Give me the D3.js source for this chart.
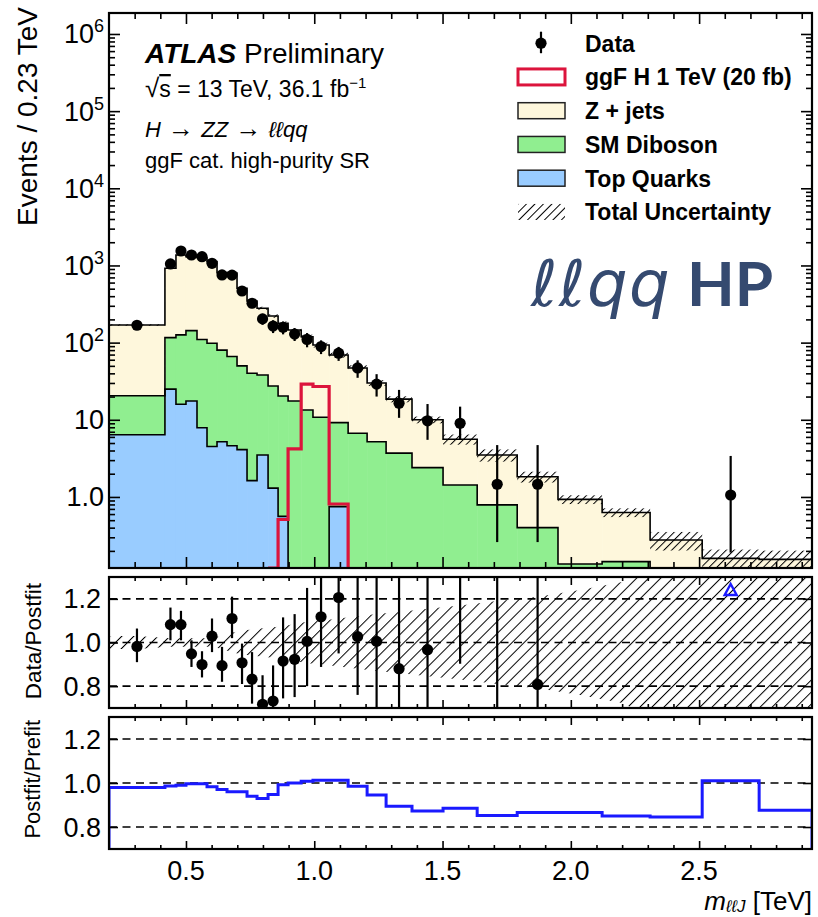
<!DOCTYPE html>
<html>
<head>
<meta charset="utf-8">
<script src="https://cdn.jsdelivr.net/npm/d3@7"></script>
<style>
  body { margin: 0; background: #fff; }
  text { font-family: "Liberation Sans", Arial, Helvetica, sans-serif; fill: #000; }
</style>
</head>
<body>
<svg id="chart" width="818" height="917"></svg>
<script>
// ---------------- data ----------------
const binEdges = [0.2, 0.418, 0.461, 0.5, 0.543, 0.582, 0.621, 0.66, 0.699, 0.738, 0.777,
  0.82, 0.859, 0.898, 0.949, 0.995, 1.058, 1.132, 1.206, 1.28, 1.381, 1.502, 1.635,
  1.791, 1.95, 2.122, 2.309, 2.512, 2.734, 2.94];

// stacked backgrounds (events / 0.23 TeV)
const topQuarks = [6.4, 25, 15.9, 17.5, 7.9, 4.5, 5.2, 4.6, 4.1, 1.63, 3.5, 1.3, 0.56,
  0, 0, 0, 0.75, 0, 0, 0, 0, 0, 0, 0, 0, 0, 0, 0, 0];
const smDiboson = [14.1, 91, 110.1, 125.5, 102.1, 93.5, 74.8, 61.4, 45.9, 38.4, 34.5, 26.1,
  19.8, 17.5, 13.4, 10.8, 8.45, 6.7, 5.2, 3.7, 2.4, 1.43, 0.79, 0.40, 0.135, 0.145, 0.05, 0.03, 0.03];
const zJets = [148.5, 804, 1241, 1157, 1160, 1022, 727, 734, 456, 307, 241, 193.6, 157.6,
  128.5, 105.6, 82.2, 59.8, 40.3, 24.8, 14.8, 7.6, 4.17, 2.71, 1.43, 0.795, 0.485, 0.227, 0.13, 0.125];
// relative total uncertainty on the stack
const totalUncRel = [0.02, 0.02, 0.02, 0.02, 0.02, 0.02, 0.02, 0.03, 0.035, 0.04, 0.045, 0.05,
  0.055, 0.06, 0.065, 0.07, 0.075, 0.08, 0.085, 0.09, 0.1, 0.15, 0.18, 0.16, 0.13, 0.13, 0.27, 0.3, 0.3];

// ggF H 1 TeV signal (null = not drawn)
const signalH1TeV = [null, null, null, null, null, null, null, null, null, null, null,
  0.05, 0.51, 4.2, 29, 27, 0.81, null, null, null, null, null, null, null, null, null, null, null, null];

// data with error-bar bounds (null = empty bin)
const dataVal = [168, 1047, 1540, 1367, 1300, 1067, 753, 750, 467, 324, 203, 164, 158, 129,
  110, 89, 73, 47, 29, 16.4, 9.7, 9.0, 1.46, 1.46, null, null, null, 1.06, null];
const dataLo = [155, 975, 1445, 1283, 1213, 988, 687, 684, 415, 280, 170, 133, 128, 105,
  87, 71, 58, 35, 20, 10.6, 5.5, 5.5, 0.26, 0.26, null, null, null, 0.19, null];
const dataHi = [181, 1120, 1635, 1452, 1387, 1146, 819, 816, 519, 368, 236, 195, 188, 153,
  133, 107, 88, 59, 39, 24.4, 16, 14.8, 4.7, 4.7, null, null, null, 3.4, null];

// Data / Postfit
const ratioVal = [0.982, 1.082, 1.082, 0.948, 0.899, 1.029, 0.894, 1.11, 0.907, 0.832, 0.717,
  0.732, 0.915, 0.923, 1.005, 1.118, 1.206, 1.027, 1.005, 0.88, 0.967, 1.6, 0.42, 0.808,
  null, null, null, 6.5, null];
const ratioLo = [0.91, 1.01, 1.01, 0.888, 0.84, 0.956, 0.82, 1.02, 0.81, 0.72, 0.64, 0.6,
  0.744, 0.75, 0.80, 0.888, 0.95, 0.76, 0.6, 0.55, 0.55, 0.903, 0.075, 0.14,
  null, null, null, 1.5, null];
const ratioHi = [1.064, 1.16, 1.145, 1.01, 0.96, 1.11, 0.98, 1.21, 0.995, 0.956, 0.85, 0.895,
  1.115, 1.13, 1.25, 1.4, 1.45, 1.5, 1.5, 1.5, 1.5, 2.6, 1.35, 2.6,
  null, null, null, 20, null];
// relative width of the ratio uncertainty band
const ratioBandRel = [0.03, 0.02, 0.02, 0.02, 0.02, 0.02, 0.03, 0.045, 0.055, 0.06, 0.065, 0.07,
  0.075, 0.085, 0.095, 0.1, 0.11, 0.12, 0.13, 0.14, 0.155, 0.17, 0.19, 0.21, 0.24, 0.28, 0.5, 0.6, 0.6];

// Postfit / Prefit
const postPre = [0.979, 0.986, 0.99, 0.997, 0.997, 0.983, 0.97, 0.96, 0.96, 0.94, 0.929, 0.948,
  0.992, 1.0, 1.008, 1.012, 1.012, 0.985, 0.945, 0.894, 0.873, 0.885, 0.852, 0.866, 0.866,
  0.85, 0.845, 1.01, 0.876];

// ticks and labels
const xMajorTicks = [0.5, 1.0, 1.5, 2.0, 2.5];
const xTickLabels = ["0.5", "1.0", "1.5", "2.0", "2.5"];
const xMinorTicks = [0.3, 0.4, 0.6, 0.7, 0.8, 0.9, 1.1, 1.2, 1.3, 1.4, 1.6, 1.7, 1.8, 1.9,
  2.1, 2.2, 2.3, 2.4, 2.6, 2.7, 2.8, 2.9];
const mainYTicks = [1, 10, 1e2, 1e3, 1e4, 1e5, 1e6];
const mainYTickBase = ["1.0", "10", "10", "10", "10", "10", "10"];
const mainYTickExp = [null, null, "2", "3", "4", "5", "6"];
const ratioTicks = [0.8, 1.0, 1.2];
const ratioTickLabels = ["0.8", "1.0", "1.2"];

const legendItems = [
  { label: "Data", kind: "data" },
  { label: "ggF H 1 TeV (20 fb)", kind: "signal" },
  { label: "Z + jets", kind: "zjets" },
  { label: "SM Diboson", kind: "diboson" },
  { label: "Top Quarks", kind: "top" },
  { label: "Total Uncertainty", kind: "unc" }
];

// ---------------- layout ----------------
const L = 109, R = 812;
const mainP = { top: 13, bottom: 568 };
const ratP = { top: 577, bottom: 708 };
const pfP = { top: 717, bottom: 849 };
const colors = { zjets: "#fef7dc", diboson: "#90ee90", top: "#99ccff", signal: "#dc143c", pf: "#1a1aff" };

const svg = d3.select("#chart");
const defs = svg.append("defs");

function hatch(id, size, width) {
  const p = defs.append("pattern").attr("id", id).attr("width", size).attr("height", size)
    .attr("patternUnits", "userSpaceOnUse").attr("patternTransform", "rotate(45)");
  p.append("line").attr("x1", 0).attr("y1", -1).attr("x2", 0).attr("y2", size + 1)
    .attr("stroke", "#000").attr("stroke-width", width);
}
hatch("hatchMain", 5.5, 2);
hatch("hatchRatio", 8.5, 2);
hatch("hatchLeg", 6, 2);

function clip(id, p) {
  defs.append("clipPath").attr("id", id).append("rect")
    .attr("x", L).attr("y", p.top).attr("width", R - L).attr("height", p.bottom - p.top);
}
clip("clipMain", mainP); clip("clipRat", ratP); clip("clipPf", pfP);

const x = d3.scaleLinear().domain([0.2, 2.94]).range([L, R]);
const yMain = d3.scaleLog().domain([0.12, 1.87e6]).range([mainP.bottom, mainP.top]).clamp(true);
const yRat = d3.scaleLinear().domain([0.7, 1.3]).range([ratP.bottom, ratP.top]);
const yPf = d3.scaleLinear().domain([0.7, 1.3]).range([pfP.bottom, pfP.top]);
const ym = v => yMain(Math.max(v, 1e-4));

const nBins = binEdges.length - 1;
const bins = d3.range(nBins).map(i => ({
  i, lo: binEdges[i], hi: binEdges[i + 1], c: (binEdges[i] + binEdges[i + 1]) / 2,
  top: topQuarks[i], diboson: smDiboson[i], zjets: zJets[i]
}));
const stacked = d3.stack().keys(["top", "diboson", "zjets"])(bins);
const total = bins.map(b => b.top + b.diboson + b.zjets);

const line = d3.line();
function stepPoints(vals, yf, base, from = 0, to = nBins) {
  const pts = [[x(binEdges[from]), base]];
  for (let i = from; i < to; i++) {
    pts.push([x(binEdges[i]), yf(vals[i])], [x(binEdges[i + 1]), yf(vals[i])]);
  }
  pts.push([x(binEdges[to]), base]);
  return pts;
}

// ---------------- main panel ----------------
const gMain = svg.append("g").attr("clip-path", "url(#clipMain)");
stacked.forEach(layer => {
  gMain.append("g").selectAll("rect").data(layer).join("rect")
    .attr("x", d => x(d.data.lo)).attr("width", d => x(d.data.hi) - x(d.data.lo) + 0.5)
    .attr("y", d => ym(d[1])).attr("height", d => Math.max(0, ym(d[0]) - ym(d[1])))
    .attr("fill", colors[layer.key]);
});
stacked.forEach(layer => {
  gMain.append("path").attr("d", line(stepPoints(layer.map(d => d[1]), ym, mainP.bottom)))
    .attr("fill", "none").attr("stroke", "#000").attr("stroke-width", 1.6);
});
// total uncertainty
gMain.append("g").selectAll("rect").data(bins).join("rect")
  .attr("x", d => x(d.lo)).attr("width", d => x(d.hi) - x(d.lo))
  .attr("y", d => ym(total[d.i] * (1 + totalUncRel[d.i])))
  .attr("height", d => ym(total[d.i] * (1 - totalUncRel[d.i])) - ym(total[d.i] * (1 + totalUncRel[d.i])))
  .attr("fill", "url(#hatchMain)");
// signal
{
  const idx = signalH1TeV.map((v, i) => v == null ? -1 : i).filter(i => i >= 0);
  const from = idx[0], to = idx[idx.length - 1] + 1;
  gMain.append("path").attr("d", line(stepPoints(signalH1TeV, ym, mainP.bottom - 1, from, to)))
    .attr("fill", "none").attr("stroke", colors.signal).attr("stroke-width", 3.2);
}
// data
const gData = svg.append("g").attr("clip-path", "url(#clipMain)");
bins.filter(b => dataVal[b.i] != null).forEach(b => {
  gData.append("line").attr("x1", x(b.c)).attr("x2", x(b.c))
    .attr("y1", ym(dataLo[b.i])).attr("y2", ym(dataHi[b.i]))
    .attr("stroke", "#000").attr("stroke-width", 2.2);
  gData.append("circle").attr("cx", x(b.c)).attr("cy", ym(dataVal[b.i])).attr("r", 5.6).attr("fill", "#000");
});

// ---------------- ratio panel ----------------
const gRat = svg.append("g").attr("clip-path", "url(#clipRat)");
{
  const up = [[x(binEdges[0]), yRat(1 + ratioBandRel[0])]];
  const dn = [[x(binEdges[0]), yRat(1 - ratioBandRel[0])]];
  bins.forEach(b => {
    up.push([x(b.c), yRat(1 + ratioBandRel[b.i])]);
    dn.push([x(b.c), yRat(1 - ratioBandRel[b.i])]);
  });
  up.push([x(binEdges[nBins]), yRat(1 + ratioBandRel[nBins - 1])]);
  dn.push([x(binEdges[nBins]), yRat(1 - ratioBandRel[nBins - 1])]);
  gRat.append("path").attr("d", line(up.concat(dn.reverse())) + "Z").attr("fill", "url(#hatchRatio)");
}
function dashed(g, ys) {
  g.selectAll(null).data(ys).join("line")
    .attr("x1", L).attr("x2", R).attr("y1", d => d).attr("y2", d => d)
    .attr("stroke", "#000").attr("stroke-width", 1.6).attr("stroke-dasharray", "8,5.5");
}
dashed(gRat, ratioTicks.map(yRat));
bins.filter(b => ratioVal[b.i] != null).forEach(b => {
  const cx = x(b.c);
  if (ratioLo[b.i] > 1.3) {
    const ty = ratP.top + 13;
    gRat.append("path").attr("d", `M${cx},${ty - 6}L${cx + 6},${ty + 5}L${cx - 6},${ty + 5}Z`)
      .attr("fill", "none").attr("stroke", "#1a1aff").attr("stroke-width", 2.4);
    return;
  }
  gRat.append("line").attr("x1", cx).attr("x2", cx)
    .attr("y1", yRat(ratioLo[b.i])).attr("y2", yRat(ratioHi[b.i]))
    .attr("stroke", "#000").attr("stroke-width", 2.2);
  gRat.append("circle").attr("cx", cx).attr("cy", yRat(ratioVal[b.i])).attr("r", 5.6).attr("fill", "#000");
});

// ---------------- postfit / prefit panel ----------------
const gPf = svg.append("g").attr("clip-path", "url(#clipPf)");
dashed(gPf, ratioTicks.map(yPf));
gPf.append("path").attr("d", line(stepPoints(postPre, yPf, pfP.bottom)))
  .attr("fill", "none").attr("stroke", colors.pf).attr("stroke-width", 3);

// ---------------- axes & frames ----------------
function ticksX(p, major, minor) {
  [[d3.axisBottom, p.bottom], [d3.axisTop, p.top]].forEach(([ax, yy]) => {
    svg.append("g").attr("transform", `translate(0,${yy})`)
      .call(ax(x).tickValues(xMajorTicks).tickSize(-major).tickFormat(""))
      .call(g => g.select(".domain").remove());
    svg.append("g").attr("transform", `translate(0,${yy})`)
      .call(ax(x).tickValues(xMinorTicks).tickSize(-minor).tickFormat(""))
      .call(g => g.select(".domain").remove());
  });
}
function ticksY(scale, vals, len) {
  [[d3.axisLeft, L], [d3.axisRight, R]].forEach(([ax, xx]) => {
    svg.append("g").attr("transform", `translate(${xx},0)`)
      .call(ax(scale).tickValues(vals).tickSize(-len).tickFormat(""))
      .call(g => g.select(".domain").remove());
  });
}
ticksX(mainP, 11, 6);
ticksX(ratP, 8, 4);
ticksX(pfP, 8, 4);

const logMinor = [];
for (let e = -1; e <= 6; e++) for (let k = 2; k <= 9; k++) {
  const v = k * Math.pow(10, e);
  if (v > 0.12 && v < 1.87e6) logMinor.push(v);
}
ticksY(yMain, mainYTicks, 11);
ticksY(yMain, logMinor, 6);
ticksY(yRat, ratioTicks, 9);
ticksY(yPf, ratioTicks, 9);
svg.selectAll(".tick line").attr("stroke", "#000").attr("stroke-width", 1.6);

[mainP, ratP, pfP].forEach(p => {
  svg.append("rect").attr("x", L).attr("y", p.top).attr("width", R - L).attr("height", p.bottom - p.top)
    .attr("fill", "none").attr("stroke", "#000").attr("stroke-width", 2.2);
});

// tick labels
mainYTicks.forEach((v, i) => {
  const t = svg.append("text").attr("x", 104).attr("y", yMain(v) + 9.5)
    .attr("text-anchor", "end").attr("font-size", 27).text(mainYTickBase[i]);
  if (mainYTickExp[i]) t.append("tspan").attr("font-size", 18).attr("dy", -11).text(mainYTickExp[i]);
});
[yRat, yPf].forEach(s => {
  ratioTicks.forEach((v, i) => {
    svg.append("text").attr("x", 101).attr("y", s(v) + 9.5).attr("text-anchor", "end")
      .attr("font-size", 27).text(ratioTickLabels[i]);
  });
});
xMajorTicks.forEach((v, i) => {
  svg.append("text").attr("x", x(v)).attr("y", 880).attr("text-anchor", "middle")
    .attr("font-size", 27).text(xTickLabels[i]);
});

// axis titles
svg.append("text").attr("transform", "translate(37,7) rotate(-90)").attr("text-anchor", "end")
  .attr("font-size", 28).text("Events / 0.23 TeV");
svg.append("text").attr("transform", "translate(41,583) rotate(-90)").attr("text-anchor", "end")
  .attr("font-size", 22.5).text("Data/Postfit");
svg.append("text").attr("transform", "translate(40,720) rotate(-90)").attr("text-anchor", "end")
  .attr("font-size", 22).text("Postfit/Prefit");
{
  const t = svg.append("text").attr("x", 812).attr("y", 910).attr("text-anchor", "end").attr("font-size", 26);
  t.append("tspan").attr("font-style", "italic").text("m");
  t.append("tspan").attr("font-style", "italic").attr("font-size", 17).attr("dy", 2).text("ℓℓJ");
  t.append("tspan").attr("dy", -2).text(" [TeV]");
}

// ---------------- annotations ----------------
{
  const t = svg.append("text").attr("x", 145).attr("y", 63).attr("font-size", 28);
  t.append("tspan").attr("font-weight", "bold").attr("font-style", "italic").text("ATLAS");
  t.append("tspan").text(" Preliminary");
  const s = svg.append("text").attr("x", 145).attr("y", 97).attr("font-size", 23);
  s.append("tspan").attr("font-size", 26).text("√");
  s.append("tspan").attr("text-decoration", "overline").text("s");
  s.append("tspan").text(" = 13 TeV,  36.1 fb");
  s.append("tspan").attr("font-size", 15).attr("dy", -9).text("−1");
  const h = svg.append("text").attr("x", 145).attr("y", 137).attr("font-size", 22);
  h.append("tspan").attr("font-style", "italic").text("H");
  h.append("tspan").attr("font-size", 26).text(" → ");
  h.append("tspan").attr("font-style", "italic").text("ZZ");
  h.append("tspan").attr("font-size", 26).text(" → ");
  h.append("tspan").attr("font-style", "italic").text("ℓℓqq");
  svg.append("text").attr("x", 145).attr("y", 168).attr("font-size", 22).text("ggF cat. high-purity SR");

  const big = svg.append("text").attr("x", 531).attr("y", 306).attr("fill", "#354a70");
  big.append("tspan").attr("font-family", "DejaVu Sans").attr("font-style", "italic").attr("font-size", 64)
    .attr("fill", "#354a70").attr("letter-spacing", 1.5).text("ℓℓqq");
  big.append("tspan").attr("x", 687).attr("font-family", "Lato").attr("font-weight", "bold").attr("font-size", 62)
    .attr("fill", "#354a70").text("HP");
}

// ---------------- legend ----------------
legendItems.forEach((it, i) => {
  const base = 51.7 + i * 33.75;
  const g = svg.append("g");
  if (it.kind === "data") {
    g.append("line").attr("x1", 541).attr("x2", 541).attr("y1", base - 20).attr("y2", base + 1.5)
      .attr("stroke", "#000").attr("stroke-width", 2.2);
    g.append("circle").attr("cx", 541).attr("cy", base - 8.5).attr("r", 5.6).attr("fill", "#000");
  } else {
    const r = g.append("rect").attr("x", 518).attr("y", base - 16.5).attr("width", 47).attr("height", 16);
    if (it.kind === "signal") r.attr("fill", "#fff").attr("stroke", colors.signal).attr("stroke-width", 3);
    else if (it.kind === "unc") r.attr("fill", "url(#hatchLeg)");
    else r.attr("fill", colors[it.kind]).attr("stroke", "#222").attr("stroke-width", 1.5);
  }
  g.append("text").attr("x", 585).attr("y", base).attr("font-size", 23).attr("font-weight", "bold").text(it.label);
});
</script>
</body>
</html>
